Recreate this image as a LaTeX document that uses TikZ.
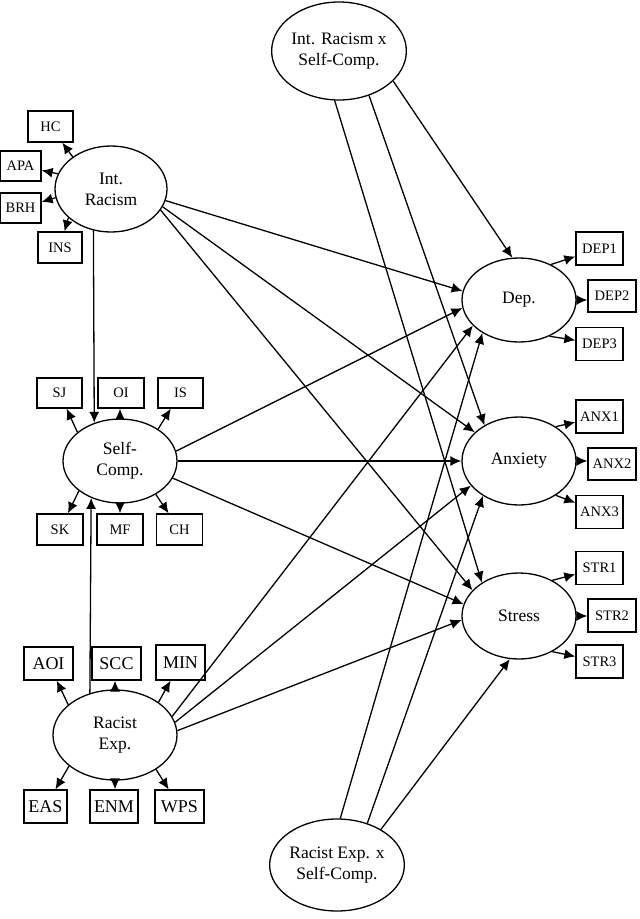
\documentclass[tikz,border=0pt]{standalone}
\usepackage{fontspec}
\setmainfont{Liberation Serif}
\usetikzlibrary{shapes.geometric, arrows.meta}

\begin{document}
\begin{tikzpicture}[x=1pt, y=-1pt, >={Latex[length=11pt,width=10pt]},
    every node/.style={draw, line width=1.3pt, align=center, inner sep=0pt},
    latent/.style={ellipse, font=\fontsize{17.5}{21}\selectfont},
    smallbox/.style={rectangle, minimum width=45pt, minimum height=31pt, font=\fontsize{14.5}{17}\selectfont},
    bigbox/.style={rectangle, minimum width=49pt, minimum height=33pt, font=\fontsize{18}{21}\selectfont},
    link/.style={->, line width=1.3pt}]

    \useasboundingbox (0,0) rectangle (640,919);

    % Latent variables
    \node (intXsc) [latent, minimum width=126pt, minimum height=98pt] at (339,51) {Int. Racism x\\Self-Comp.};
    \node (intRacism) [latent, minimum width=112pt, minimum height=86pt] at (111,189) {Int.\\Racism};
    \node (selfComp) [latent, minimum width=114pt, minimum height=84pt] at (120,461) {Self-\\Comp.};
    \node (racistExp) [latent, minimum width=124pt, minimum height=90pt] at (115,735) {Racist\\Exp.};
    \node (expXsc) [latent, minimum width=126pt, minimum height=92pt] at (337,865) {Racist Exp. x\\Self-Comp.};
    \node (dep) [latent, minimum width=114pt, minimum height=84pt] at (519,300) {Dep.};
    \node (anxiety) [latent, minimum width=114pt, minimum height=88pt] at (519,461) {Anxiety};
    \node (stress) [latent, minimum width=114pt, minimum height=86pt] at (519,616) {Stress};

    % Indicators
    \node (hc) [smallbox] at (50.5,126.5) {HC};
    \node (apa) [smallbox, minimum width=41pt, minimum height=30pt] at (20.5,166) {APA};
    \node (brh) [smallbox, minimum width=41pt, minimum height=30pt] at (20.5,208) {BRH};
    \node (ins) [smallbox, minimum width=44pt] at (60,247.5) {INS};
    \node (sj) [smallbox, minimum height=30pt] at (59.5,393) {SJ};
    \node (oi) [smallbox, minimum width=46pt, minimum height=30pt] at (121,393) {OI};
    \node (is) [smallbox, minimum height=30pt] at (180.5,393) {IS};
    \node (sk) [smallbox, minimum width=46pt] at (60,529.5) {SK};
    \node (mf) [smallbox, minimum width=46pt] at (120,529.5) {MF};
    \node (ch) [smallbox, minimum width=46pt] at (179.5,529.5) {CH};
    \node (aoi) [bigbox] at (48.5,663.5) {AOI};
    \node (scc) [bigbox] at (116.5,663.5) {SCC};
    \node (min) [bigbox, minimum height=35pt] at (180.5,662.5) {MIN};
    \node (eas) [bigbox, minimum width=43pt] at (45.5,806.5) {EAS};
    \node (enm) [bigbox, minimum width=48pt] at (114,806.5) {ENM};
    \node (wps) [bigbox] at (179.5,806.5) {WPS};
    \node (dep1) [smallbox, minimum width=47pt, minimum height=33pt] at (599.5,248.5) {DEP1};
    \node (dep2) [smallbox, minimum width=48pt, minimum height=32pt] at (612,296) {DEP2};
    \node (dep3) [smallbox, minimum width=47pt, minimum height=33pt] at (599.5,344) {DEP3};
    \node (anx1) [smallbox, minimum width=47pt, minimum height=33pt] at (599.5,416.5) {ANX1};
    \node (anx2) [smallbox, minimum width=48pt, minimum height=32pt] at (612,464) {ANX2};
    \node (anx3) [smallbox, minimum width=47pt, minimum height=33pt] at (599.5,512) {ANX3};
    \node (str1) [smallbox, minimum width=47pt, minimum height=33pt] at (599.5,568) {STR1};
    \node (str2) [smallbox, minimum width=48pt, minimum height=33pt] at (612,615.5) {STR2};
    \node (str3) [smallbox, minimum width=47pt, minimum height=33pt] at (599.5,661.5) {STR3};

    % Structural paths
    \draw[link] (intRacism.-113) -- (selfComp.124);
    \draw[link] (racistExp.121) -- (selfComp.-128);
    \draw[link] (intRacism.-12) -- (dep.171);
    \draw[link] (intRacism.-19) -- (anxiety.147);
    \draw[link] (intRacism.-23) -- (stress.151);
    \draw[link] (selfComp.10) -- (dep.-172);
    \draw[link] (selfComp.0) -- (anxiety.180);
    \draw[link] (selfComp.-18) -- (stress.168);
    \draw[link] (racistExp.18) -- (dep.-151);
    \draw[link] (racistExp.12) -- (anxiety.-153);
    \draw[link] (racistExp.4) -- (stress.-176);
    \draw[link] (intXsc.-29) -- (dep.99);
    \draw[link] (intXsc.-56) -- (anxiety.134);
    \draw[link] (intXsc.-95) -- (stress.138);
    \draw[link] (expXsc.86) -- (dep.-138);
    \draw[link] (expXsc.54) -- (anxiety.-136);
    \draw[link] (expXsc.39) -- (stress.-102);

    % Measurement paths
    \draw[link] (intRacism.140) -- (hc);
    \draw[link] (intRacism.164) -- (apa);
    \draw[link] (intRacism.-171) -- (brh);
    \draw[link] (intRacism.-146) -- (ins);
    \draw[link] (selfComp.146) -- (sj);
    \draw[link] (selfComp.90) -- (selfComp.90 |- oi.south);
    \draw[link] (selfComp.40) -- (is);
    \draw[link] (selfComp.-144) -- (sk);
    \draw[link] (selfComp.-90) -- (selfComp.-90 |- mf.north);
    \draw[link] (selfComp.-43) -- (ch);
    \draw[link] (racistExp.147) -- (aoi);
    \draw[link] (racistExp.90) -- (racistExp.90 |- scc.south);
    \draw[link] (racistExp.37) -- (min);
    \draw[link] (racistExp.-146) -- (eas);
    \draw[link] (racistExp.-90) -- (racistExp.-90 |- enm.north);
    \draw[link] (racistExp.-40) -- (wps);
    \draw[link] (dep.48) -- (dep1);
    \draw[link] (dep.0) -- (dep.0 -| dep2.west);
    \draw[link] (dep.-50) -- (dep3);
    \draw[link] (anxiety.43) -- (anx1);
    \draw[link] (anxiety.0) -- (anxiety.0 -| anx2.west);
    \draw[link] (anxiety.-43) -- (anx3);
    \draw[link] (stress.47) -- (str1);
    \draw[link] (stress.0) -- (stress.0 -| str2.west);
    \draw[link] (stress.-47) -- (str3);
\end{tikzpicture}
\end{document}
